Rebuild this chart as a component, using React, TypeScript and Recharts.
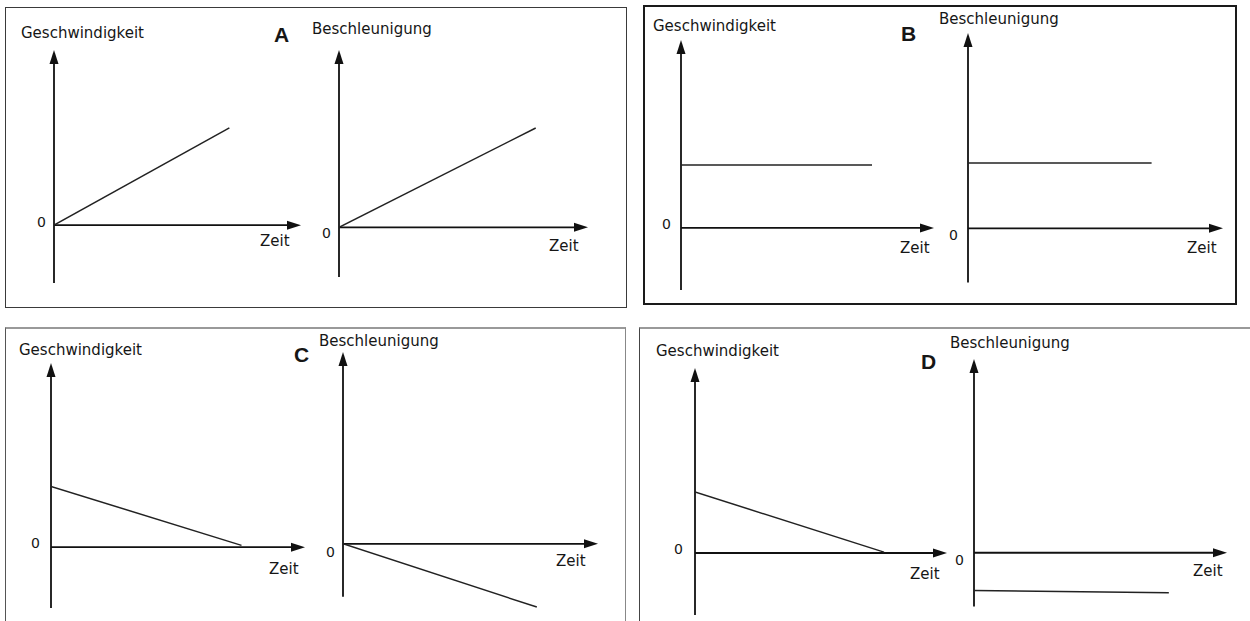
import React from 'react';
import { LineChart, Line, XAxis, YAxis, ReferenceLine } from 'recharts';

// Zeit (Start/Ende) und Werte der einzelnen Diagramme
const zeitA1 = [0, 7.1];
const geschwindigkeitA = [0, 5.55];
const zeitA2 = [0, 7.9];
const beschleunigungA = [0, 5.6];

const zeitB1 = [0, 7.55];
const geschwindigkeitB = [3.35, 3.35];
const zeitB2 = [0, 7.2];
const beschleunigungB = [3.35, 3.35];

const zeitC1 = [0, 7.5];
const geschwindigkeitC = [3.3, 0.1];
const zeitC2 = [0, 7.6];
const beschleunigungC = [0, -3.3];

const zeitD1 = [0, 7.5];
const geschwindigkeitD = [3.3, 0.05];
const zeitD2 = [0, 7.7];
const beschleunigungD = [-1.95, -2.07];

// Achsen: x von 0 bis 10, y bis 10, unteres Ende der y-Achse
const achseUntenA = [-3.3, -2.8];
const achseUntenB = [-3.3, -2.77];
const achseUntenC = [-3.3, -2.76];
const achseUntenD = [-3.35, -2.78];

const PAD = 20;
const INK = '#111';

type Plot = {
  zeit: number[];
  werte: number[];
  yMin: number;
  achseUnten: number;
  left: number;
  top: number;
  width: number;
  height: number;
  titel: string;
  titelX: number;
  titelY: number;
  nullX: number;
  nullY: number;
  zeitX: number;
  zeitY: number;
};

const plots: Plot[] = [
  { zeit: zeitA1, werte: geschwindigkeitA, yMin: -3.3, achseUnten: achseUntenA[0], left: 54, top: 50, width: 247, height: 233, titel: 'Geschwindigkeit', titelX: 21, titelY: 39, nullX: 37, nullY: 227, zeitX: 260, zeitY: 247 },
  { zeit: zeitA2, werte: beschleunigungA, yMin: -2.8, achseUnten: achseUntenA[1], left: 339, top: 50, width: 249, height: 227, titel: 'Beschleunigung', titelX: 312, titelY: 35, nullX: 322, nullY: 238, zeitX: 549, zeitY: 252 },
  { zeit: zeitB1, werte: geschwindigkeitB, yMin: -3.3, achseUnten: achseUntenB[0], left: 681, top: 40, width: 253, height: 250, titel: 'Geschwindigkeit', titelX: 653, titelY: 32, nullX: 662, nullY: 229, zeitX: 900, zeitY: 254 },
  { zeit: zeitB2, werte: beschleunigungB, yMin: -2.8, achseUnten: achseUntenB[1], left: 968, top: 33, width: 255, height: 250, titel: 'Beschleunigung', titelX: 939, titelY: 25, nullX: 949, nullY: 240, zeitX: 1187, zeitY: 254 },
  { zeit: zeitC1, werte: geschwindigkeitC, yMin: -3.3, achseUnten: achseUntenC[0], left: 51, top: 363, width: 254, height: 245, titel: 'Geschwindigkeit', titelX: 19, titelY: 356, nullX: 31, nullY: 548, zeitX: 269, zeitY: 575 },
  { zeit: zeitC2, werte: beschleunigungC, yMin: -3.4, achseUnten: achseUntenC[1], left: 343, top: 352, width: 255, height: 257, titel: 'Beschleunigung', titelX: 319, titelY: 347, nullX: 326, nullY: 557, zeitX: 556, zeitY: 567 },
  { zeit: zeitD1, werte: geschwindigkeitD, yMin: -3.35, achseUnten: achseUntenD[0], left: 695, top: 368, width: 252, height: 247, titel: 'Geschwindigkeit', titelX: 656, titelY: 357, nullX: 674, nullY: 554, zeitX: 910, zeitY: 580 },
  { zeit: zeitD2, werte: beschleunigungD, yMin: -2.8, achseUnten: achseUntenD[1], left: 974, top: 359, width: 253, height: 248, titel: 'Beschleunigung', titelX: 950, titelY: 349, nullX: 955, nullY: 565, zeitX: 1193, zeitY: 577 },
];

const buchstaben = [
  { text: 'A', x: 274, y: 42 },
  { text: 'B', x: 901, y: 41 },
  { text: 'C', x: 294, y: 362 },
  { text: 'D', x: 921, y: 369 },
];

// Achse mit Pfeilspitze am Ende (x2, y2)
const Pfeil = (props: any) => {
  const { x1, y1, x2, y2 } = props;
  const ang = Math.atan2(y2 - y1, x2 - x1);
  const len = 14;
  const half = 4.5;
  const bx = x2 - len * Math.cos(ang);
  const by = y2 - len * Math.sin(ang);
  const px = -Math.sin(ang) * half;
  const py = Math.cos(ang) * half;
  return (
    <g>
      <line x1={x1} y1={y1} x2={bx} y2={by} stroke={INK} strokeWidth={1.8} />
      <polygon points={`${x2},${y2} ${bx + px},${by + py} ${bx - px},${by - py}`} fill={INK} />
    </g>
  );
};

function Text({ x, y, children, size = 15, bold = false }: { x: number; y: number; children: React.ReactNode; size?: number; bold?: boolean }) {
  return (
    <div
      style={{
        position: 'absolute',
        left: x,
        top: y - 0.85 * size,
        fontSize: size,
        lineHeight: `${size}px`,
        fontFamily: bold ? '"Liberation Sans", Arial, sans-serif' : '"DejaVu Sans", sans-serif',
        fontWeight: bold ? 700 : 400,
        color: '#161616',
        whiteSpace: 'nowrap',
      }}
    >
      {children}
    </div>
  );
}

function Diagramm({ p }: { p: Plot }) {
  const data = p.zeit.map((t, i) => ({ t, v: p.werte[i] }));
  return (
    <div style={{ position: 'absolute', left: p.left - PAD, top: p.top - PAD }}>
      <LineChart width={p.width + 2 * PAD} height={p.height + 2 * PAD} data={data} margin={{ top: PAD, right: PAD, bottom: PAD, left: PAD }}>
        <XAxis dataKey='t' type='number' domain={[0, 10]} allowDataOverflow hide />
        <YAxis type='number' domain={[p.yMin, 10]} allowDataOverflow hide />
        <ReferenceLine segment={[{ x: 0, y: p.achseUnten }, { x: 0, y: 10 }]} ifOverflow='visible' shape={Pfeil} />
        <ReferenceLine segment={[{ x: 0, y: 0 }, { x: 10, y: 0 }]} ifOverflow='visible' shape={Pfeil} />
        <Line dataKey='v' stroke='#222' strokeWidth={1.5} dot={false} activeDot={false} isAnimationActive={false} />
      </LineChart>
    </div>
  );
}

export default function App() {
  return (
    <div style={{ position: 'absolute', left: 0, top: 0, width: 1250, height: 621, overflow: 'hidden', background: '#fff' }}>
      {/* Rahmen der vier Felder */}
      <div style={{ position: 'absolute', left: 5, top: 7, width: 620, height: 299, border: '1px solid #3a3a3a' }} />
      <div style={{ position: 'absolute', left: 643, top: 5, width: 590, height: 296, border: '2px solid #1a1a1a' }} />
      <div style={{ position: 'absolute', left: 5, top: 327, width: 619, height: 320, borderTop: '2px solid #999', borderLeft: '1px solid #555', borderRight: '1px solid #888' }} />
      <div style={{ position: 'absolute', left: 639, top: 327, width: 640, height: 320, borderTop: '2px solid #999', borderLeft: '1px solid #444' }} />

      {plots.map((p, i) => (
        <Diagramm key={i} p={p} />
      ))}

      {plots.map((p, i) => (
        <React.Fragment key={`t${i}`}>
          <Text x={p.titelX} y={p.titelY}>{p.titel}</Text>
          <Text x={p.nullX} y={p.nullY} size={14}>0</Text>
          <Text x={p.zeitX} y={p.zeitY}>Zeit</Text>
        </React.Fragment>
      ))}

      {buchstaben.map((b) => (
        <Text key={b.text} x={b.x} y={b.y} size={21} bold>
          {b.text}
        </Text>
      ))}
    </div>
  );
}
